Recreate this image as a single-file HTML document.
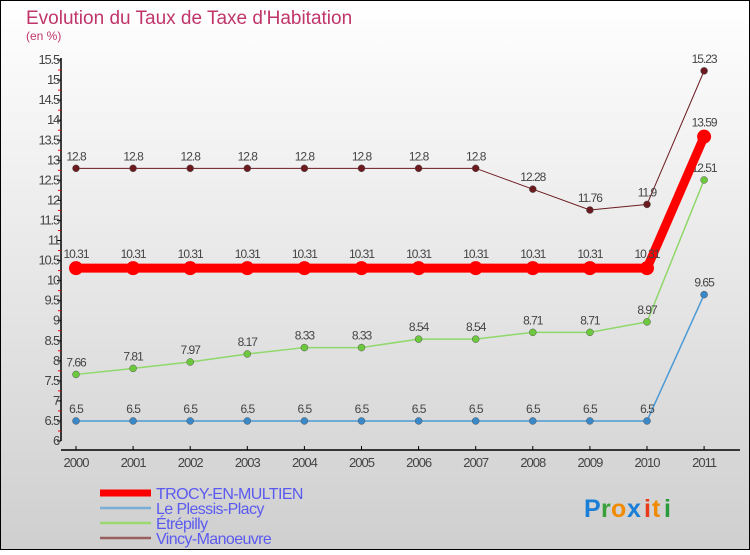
<!DOCTYPE html>
<html><head><meta charset="utf-8"><style>
body{margin:0;}
svg text{font-family:"Liberation Sans",sans-serif;}
</style></head><body>
<svg id="chart" width="750" height="550" xmlns="http://www.w3.org/2000/svg">
<defs><linearGradient id="bg" x1="0" y1="0" x2="0" y2="1"><stop offset="0" stop-color="#ffffff"/><stop offset="1" stop-color="#cfcfcf"/></linearGradient></defs>
<rect x="0.5" y="0.5" width="749" height="549" fill="url(#bg)" stroke="#000"/>
<text x="26" y="24" font-size="19" fill="#c0356a">Evolution du Taux de Taxe d'Habitation</text>
<text x="26" y="40" font-size="12" fill="#c0356a">(en %)</text>
<g id="axes"></g><g id="series"></g><g id="legend"></g>
<g font-size="25" font-weight="bold" font-family="Liberation Sans">
<text x="584" y="517" fill="#1a7fd6">P</text><text x="601" y="517" fill="#3aa03a">r</text><text x="611" y="517" fill="#f08a00">o</text><text x="627" y="517" fill="#1a7fd6">x</text><text x="644" y="517" fill="#e83a1a">i</text><text x="652" y="517" fill="#f08a00">t</text><text x="664" y="517" fill="#2a9a3a">i</text>
</g>
</svg>
<script>
const years=["2000","2001","2002","2003","2004","2005","2006","2007","2008","2009","2010","2011"];
const trocy=[10.31,10.31,10.31,10.31,10.31,10.31,10.31,10.31,10.31,10.31,10.31,13.59];
const plessis=[6.5,6.5,6.5,6.5,6.5,6.5,6.5,6.5,6.5,6.5,6.5,9.65];
const etrepilly=[7.66,7.81,7.97,8.17,8.33,8.33,8.54,8.54,8.71,8.71,8.97,12.51];
const vincy=[12.8,12.8,12.8,12.8,12.8,12.8,12.8,12.8,12.28,11.76,11.9,15.23];
const yTicks=[6,6.5,7,7.5,8,8.5,9,9.5,10,10.5,11,11.5,12,12.5,13,13.5,14,14.5,15,15.5];
const names=["TROCY-EN-MULTIEN","Le Plessis-Placy","Étrépilly","Vincy-Manoeuvre"];
const NS="http://www.w3.org/2000/svg";
const x=i=>76+i*57.1;
const y=v=>441-(v-6)*40.1;
function mk(t,a,p){const e=document.createElementNS(NS,t);for(const k in a)e.setAttribute(k,a[k]);p.appendChild(e);return e;}
const ax=document.getElementById('axes');
let e=mk('line',{x1:61,y1:y(15.5)-2,x2:61,y2:441,stroke:'#000','stroke-width':1.5},ax);

e=mk('line',{x1:61,y1:450,x2:740,y2:450,stroke:'#000','stroke-width':1.5},ax);

yTicks.forEach((v,i)=>{
 mk('line',{x1:57,x2:61,y1:y(v),y2:y(v),stroke:'#000'},ax);
 if(i<yTicks.length-1)mk('line',{x1:58,x2:61,y1:y(v+0.25),y2:y(v+0.25),stroke:'#e00'},ax);
 const t=mk('text',{x:59,y:y(v)+4,'font-size':13,fill:'#444','text-anchor':'end','letter-spacing':'-1.2'},ax);
 t.textContent=String(v);
 
});
years.forEach((yr,i)=>{
 mk('line',{x1:x(i),x2:x(i),y1:446,y2:450,stroke:'#000'},ax);
 const t=mk('text',{x:x(i),y:467,'font-size':13,fill:'#444','text-anchor':'middle','letter-spacing':'-1'},ax);
 t.textContent=yr;
 
});
const sg=document.getElementById('series');
const defs=[
 {d:vincy,c:'#6b1a1f',w:1,r:3.5,n:'vincy-manoeuvre'},
 {d:etrepilly,c:'#8fd86a',w:1.5,r:3.5,n:'etrepilly',pc:'#6cc83c'},
 {d:plessis,c:'#4b9ad6',w:1.5,r:3.5,n:'le-plessis-placy',pc:'#3a88c8'},
 {d:trocy,c:'#ff0000',w:9,r:7,n:'trocy-en-multien'}
];
defs.forEach(s=>{
 const g=mk('g',{},sg);
 
 const pl=mk('polyline',{points:s.d.map((v,i)=>x(i)+','+y(v)).join(' '),fill:'none',stroke:s.c,'stroke-width':s.w},g);
 
 s.d.forEach((v,i)=>{
  const c=mk('circle',{cx:x(i),cy:y(v),r:s.r,fill:s.pc||s.c,stroke:s.w>5?'none':'#555','stroke-width':0.5},g);
  
  const t=mk('text',{x:x(i),y:y(v)-(s.w>5?10:8),'font-size':12,fill:'#444','text-anchor':'middle','letter-spacing':'-1'},g);
  t.textContent=String(v);
  
 });
});
const lg=document.getElementById('legend');
const lc=['#ff0000','#7aaed6','#9ad870','#9a6060'],lw=[7,2.5,2.5,2.5];
names.forEach((n,i)=>{
 const yy=493+i*15;
 const l=mk('line',{x1:100,x2:151,y1:yy,y2:yy,stroke:lc[i],'stroke-width':lw[i]},lg);
 
 const t=mk('text',{x:156,y:yy+6,'font-size':16,fill:'#5a5af0','letter-spacing':'-0.6'},lg);
 t.textContent=n;
 
});
</script>
</body></html>
